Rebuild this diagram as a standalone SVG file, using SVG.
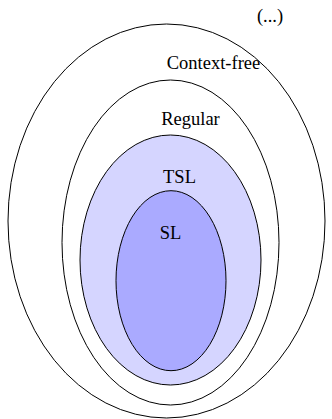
<svg xmlns="http://www.w3.org/2000/svg" width="332" height="419" viewBox="0 0 332 419">
<style>
.set{stroke:#000;stroke-width:1}
.lbl{font-family:"Liberation Serif","Times New Roman",serif;font-size:18.5px;fill:#000;text-anchor:middle}
</style>
<rect width="332" height="419" fill="#fff"/>
<g id="cf"><ellipse class="set" cx="166.5" cy="221" rx="158.5" ry="197" fill="none"/></g>
<g id="reg"><ellipse class="set" cx="170.5" cy="242.5" rx="108.5" ry="162.5" fill="none"/></g>
<g id="tsl"><ellipse class="set" cx="170.5" cy="260" rx="90.5" ry="125" fill="#d5d5ff" stroke="#333" stroke-width="0.8"/></g>
<g id="sl"><ellipse class="set" cx="171" cy="280.7" rx="55" ry="90" fill="#aaaaff" stroke="#333" stroke-width="0.8"/></g>
<g id="labels">
<text class="lbl" x="270" y="22">(...)</text>
<text class="lbl" x="213.5" y="69">Context-free</text>
<text class="lbl" x="190.5" y="125">Regular</text>
<text class="lbl" x="179.5" y="183">TSL</text>
<text class="lbl" x="170.5" y="239">SL</text>
</g>
<g id="connectors"/>
</svg>
